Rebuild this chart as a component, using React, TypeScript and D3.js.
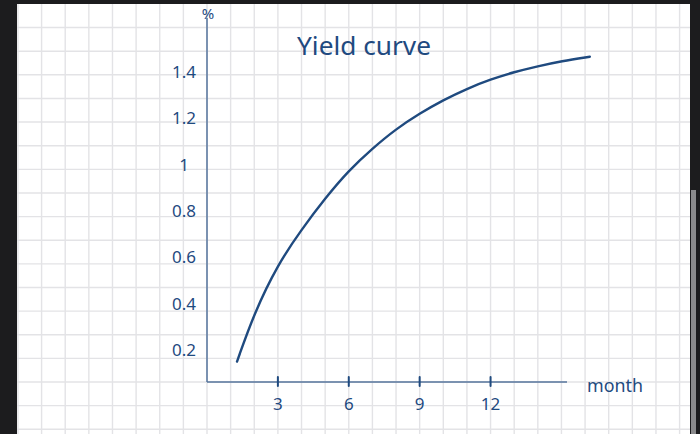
import { useEffect, useRef } from 'react';
import { select, scaleLinear, line, curveBasis, range } from 'd3';

const months = [1.27, 2, 3, 4, 5, 6, 7, 8, 9, 10, 11, 12, 13, 14, 15, 16.2];
const yields = [0.15, 0.36, 0.57, 0.72, 0.855, 0.975, 1.07, 1.154, 1.221, 1.279, 1.328, 1.368, 1.4, 1.425, 1.447, 1.466];
const xTicks = [3, 6, 9, 12];
const yTicks = [0.2, 0.4, 0.6, 0.8, 1, 1.2, 1.4];
const yTickLabels = ['0.2', '0.4', '0.6', '0.8', '1', '1.2', '1.4'];

const ink = '#1f4a7f';
const axisInk = '#56759c';
const gridInk = '#e3e3e6';

export default function App() {
  const svgRef = useRef<SVGSVGElement>(null);

  useEffect(() => {
    document.body.style.margin = '0';
    if (!svgRef.current) return;

    const svg = select(svgRef.current);
    svg.selectAll('*').remove();

    const width = 700;
    const height = 434;
    const paperLeft = 17;
    const paperTop = 4;
    const paperRight = 690;
    const originX = 207;
    const originY = 382;
    const cell = 23.63;

    const x = scaleLinear().domain([0, 1]).range([originX, originX + cell]);
    const y = scaleLinear().domain([0.2, 1.4]).range([350, 72]);

    // dark frame
    svg.append('rect').attr('width', width).attr('height', height).attr('fill', '#1c1c1e');
    svg.append('rect')
      .attr('x', paperLeft).attr('y', paperTop)
      .attr('width', paperRight - paperLeft).attr('height', height - paperTop)
      .attr('fill', '#ffffff');
    svg.append('rect')
      .attr('x', 691).attr('y', 190).attr('width', 5).attr('height', height - 190)
      .attr('fill', '#8a8a8c');

    // squared paper
    const grid = svg.append('g').attr('stroke', gridInk).attr('stroke-width', 1.4);
    range(-8, 21).forEach((m) => {
      const gx = x(m);
      if (gx <= paperLeft || gx >= paperRight) return;
      grid.append('line').attr('x1', gx).attr('x2', gx).attr('y1', paperTop).attr('y2', height);
    });
    range(-3, 17).forEach((k) => {
      const gy = originY - k * cell;
      if (gy <= paperTop || gy >= height) return;
      grid.append('line').attr('x1', paperLeft).attr('x2', paperRight).attr('y1', gy).attr('y2', gy);
    });

    // axes
    svg.append('line')
      .attr('x1', originX).attr('x2', originX).attr('y1', 18).attr('y2', originY)
      .attr('stroke', axisInk).attr('stroke-width', 1.5);
    svg.append('line')
      .attr('x1', originX).attr('x2', 567).attr('y1', originY).attr('y2', originY)
      .attr('stroke', axisInk).attr('stroke-width', 1.5);

    const font = '"Noto Sans", sans-serif';

    // x ticks
    xTicks.forEach((t) => {
      svg.append('line')
        .attr('x1', x(t)).attr('x2', x(t)).attr('y1', 377).attr('y2', 386)
        .attr('stroke', ink).attr('stroke-width', 2).attr('stroke-linecap', 'round');
      svg.append('text')
        .attr('x', x(t)).attr('y', 410)
        .attr('text-anchor', 'middle')
        .attr('font-family', font).attr('font-size', 17)
        .attr('fill', ink)
        .text(String(t));
    });

    // y tick labels
    yTicks.forEach((t, i) => {
      svg.append('text')
        .attr('x', 184).attr('y', y(t) + 6)
        .attr('text-anchor', 'middle')
        .attr('font-family', font).attr('font-size', 17)
        .attr('fill', ink)
        .text(yTickLabels[i]);
    });

    // axis titles
    svg.append('text')
      .attr('x', 208).attr('y', 19)
      .attr('text-anchor', 'middle')
      .attr('font-family', font).attr('font-size', 15)
      .attr('fill', ink)
      .text('%');
    svg.append('text')
      .attr('x', 587).attr('y', 392)
      .attr('textLength', 56)
      .attr('lengthAdjust', 'spacingAndGlyphs')
      .attr('font-family', font).attr('font-size', 18)
      .attr('fill', ink)
      .text('month');

    // title
    svg.append('text')
      .attr('x', 297).attr('y', 55)
      .attr('textLength', 134)
      .attr('lengthAdjust', 'spacingAndGlyphs')
      .attr('font-family', font).attr('font-size', 25)
      .attr('fill', ink)
      .text('Yield curve');

    // the curve
    const pts = months.map((m, i) => [m, yields[i]] as [number, number]);
    const curve = line<[number, number]>()
      .x((d) => x(d[0]))
      .y((d) => y(d[1]))
      .curve(curveBasis);

    svg.append('path')
      .datum(pts)
      .attr('d', curve)
      .attr('fill', 'none')
      .attr('stroke', ink)
      .attr('stroke-width', 2.4)
      .attr('stroke-linecap', 'round');
  }, []);

  return (
    <svg
      ref={svgRef}
      width={700}
      height={434}
      style={{ display: 'block', position: 'absolute', left: 0, top: 0 }}
    />
  );
}
